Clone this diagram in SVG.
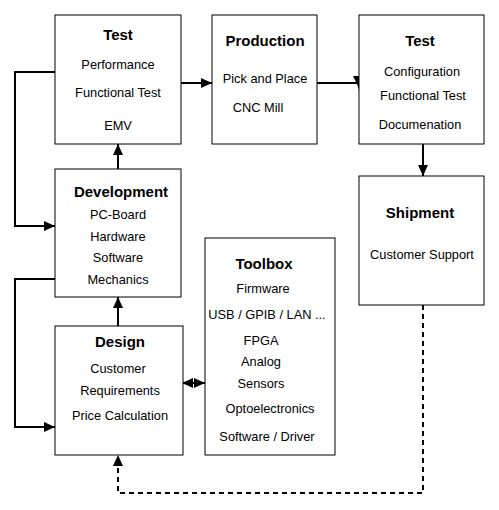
<svg xmlns="http://www.w3.org/2000/svg" width="499" height="510" viewBox="0 0 499 510">
<style>
.box{fill:#fff;stroke:#000;stroke-width:1}
.t{font-family:"Liberation Sans",Arial,sans-serif;font-size:15px;font-weight:bold;text-anchor:middle;fill:#000}
.s{font-family:"Liberation Sans",Arial,sans-serif;font-size:12.8px;text-anchor:middle;fill:#000}
.c{fill:none;stroke:#000;stroke-width:2}
.d{fill:none;stroke:#000;stroke-width:2;stroke-dasharray:5,4}
</style>
<defs>
<marker id="ah" markerUnits="userSpaceOnUse" markerWidth="12" markerHeight="10" refX="11" refY="5" orient="auto">
<path d="M0,0 L11,5 L0,10 Z" fill="#000"/>
</marker>
<marker id="ahs" markerUnits="userSpaceOnUse" markerWidth="12" markerHeight="10" refX="1" refY="5" orient="auto">
<path d="M11,0 L0,5 L11,10 Z" fill="#000"/>
</marker>
</defs>
<rect width="499" height="510" fill="#fff"/>
<g id="connectors">
<line class="c" x1="181" y1="83" x2="212" y2="83" marker-end="url(#ah)"/>
<line class="c" x1="317" y1="83" x2="359" y2="83"/>
<path d="M353,76 L365,76 L361,84 L359,90 L357,84 Z" fill="#000"/>
<line class="c" x1="423" y1="144" x2="423" y2="176" marker-end="url(#ah)"/>
<line class="c" x1="118" y1="169" x2="118" y2="144" marker-end="url(#ah)"/>
<line class="c" x1="118" y1="326" x2="118" y2="297" marker-end="url(#ah)"/>
<polyline class="c" points="55,72 15,72 15,226 55,226" marker-end="url(#ah)"/>
<polyline class="c" points="55,279 15,279 15,427 55,427" marker-end="url(#ah)"/>
<line class="c" x1="183" y1="383" x2="205" y2="383" marker-start="url(#ahs)" marker-end="url(#ah)"/>
<polyline class="d" points="423,305 423,493 118,493 118,455" marker-end="url(#ah)"/>
</g>
<g id="test1">
<rect class="box" x="55" y="15" width="126" height="129"/>
<text class="t" x="118" y="40">Test</text>
<text class="s" x="118" y="69">Performance</text>
<text class="s" x="118" y="97">Functional Test</text>
<text class="s" x="118" y="130">EMV</text>
</g>
<g id="production">
<rect class="box" x="212" y="15" width="105" height="129"/>
<text class="t" x="265" y="46">Production</text>
<text class="s" x="265" y="83">Pick and Place</text>
<text class="s" x="258" y="112">CNC Mill</text>
</g>
<g id="test2">
<rect class="box" x="359" y="15" width="125" height="129"/>
<text class="t" x="420" y="46">Test</text>
<text class="s" x="422" y="76">Configuration</text>
<text class="s" x="423" y="100">Functional Test</text>
<text class="s" x="420" y="129">Documenation</text>
</g>
<g id="development">
<rect class="box" x="55" y="169" width="126" height="128"/>
<text class="t" x="121" y="197">Development</text>
<text class="s" x="118" y="219">PC-Board</text>
<text class="s" x="118" y="241">Hardware</text>
<text class="s" x="118" y="262">Software</text>
<text class="s" x="118" y="284">Mechanics</text>
</g>
<g id="shipment">
<rect class="box" x="359" y="176" width="125" height="129"/>
<text class="t" x="420" y="218">Shipment</text>
<text class="s" x="422" y="259">Customer Support</text>
</g>
<g id="toolbox">
<rect class="box" x="205" y="238" width="130" height="217"/>
<text class="t" x="264" y="269">Toolbox</text>
<text class="s" x="263" y="293">Firmware</text>
<text class="s" x="267" y="319">USB / GPIB / LAN ...</text>
<text class="s" x="261" y="345">FPGA</text>
<text class="s" x="261" y="366">Analog</text>
<text class="s" x="261" y="388">Sensors</text>
<text class="s" x="270" y="413">Optoelectronics</text>
<text class="s" x="267" y="441">Software / Driver</text>
</g>
<g id="design">
<rect class="box" x="55" y="326" width="128" height="129"/>
<text class="t" x="120" y="347">Design</text>
<text class="s" x="118" y="373">Customer</text>
<text class="s" x="120" y="395">Requirements</text>
<text class="s" x="120" y="420">Price Calculation</text>
</g>
</svg>
